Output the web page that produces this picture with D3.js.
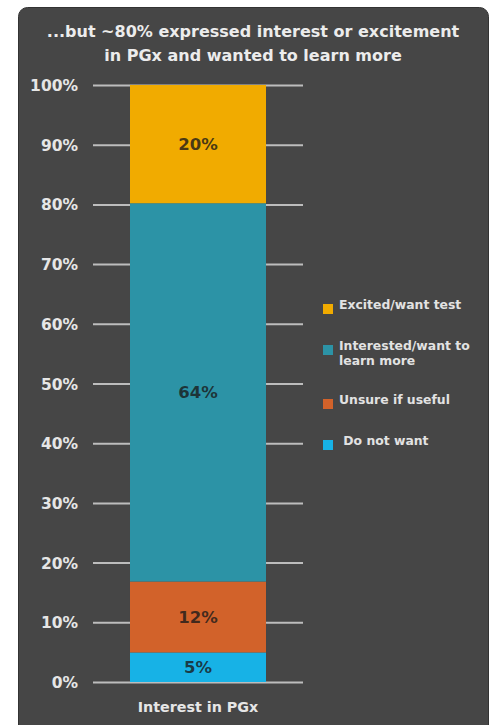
<!DOCTYPE html>
<html>
<head>
<meta charset="utf-8">
<script src="https://cdn.jsdelivr.net/npm/d3@7"></script>
<style>
  body { margin: 0; background: #fff; }
  svg { display: block; }
  text { font-family: "DejaVu Sans", sans-serif; font-weight: bold; }
</style>
</head>
<body>
<div id="chart"></div>
<script>
// Width and height
var w = 495;
var h = 725;

// data
var categories = ["Interest in PGx"];
var seriesNames = ["Do not want", "Unsure if useful", "Interested/want to learn more", "Excited/want test"];
var seriesValues = [5, 12, 64, 20];
var seriesColors = ["#17b2e6", "#d2622a", "#2c93a6", "#f1ab00"];
var tickValues = [0, 10, 20, 30, 40, 50, 60, 70, 80, 90, 100];
var titleLines = ["...but ~80% expressed interest or excitement", "in PGx and wanted to learn more"];

// legend is listed top to bottom
var legendNames = ["Excited/want test", "Interested/want to|learn more", "Unsure if useful", " Do not want"];
var legendColors = ["#f1ab00", "#2c93a6", "#d2622a", "#17b2e6"];

var svg = d3.select("#chart")
            .append("svg")
            .attr("width", w)
            .attr("height", h);

// dark panel
svg.append("rect")
   .attr("x", 18.5)
   .attr("y", 7.5)
   .attr("width", 470)
   .attr("height", 730)
   .attr("rx", 9)
   .attr("fill", "#464646")
   .attr("stroke", "#333")
   .attr("stroke-width", 1);

// title
svg.append("text")
   .attr("x", 253)
   .attr("y", 37)
   .attr("text-anchor", "middle")
   .attr("fill", "#ececec")
   .style("font-size", "16px")
   .selectAll("tspan")
   .data(titleLines).enter()
   .append("tspan")
   .attr("x", 253)
   .attr("dy", function (d, i) { return i === 0 ? 0 : 24; })
   .text(function (d) { return d; });

// scales
var y = d3.scaleLinear().domain([0, 100]).range([682, 85]);
var x = d3.scaleBand().domain(categories).range([93, 303]).paddingInner(0).paddingOuter(0.272);

// gridlines via axis
var grid = svg.append("g")
   .attr("class", "grid")
   .attr("transform", "translate(93,0)")
   .call(d3.axisRight(y).tickValues(tickValues).tickSize(210).tickFormat(""));
grid.select(".domain").remove();
grid.selectAll("line").attr("stroke", "#bdbdbd").attr("stroke-width", 2);

// y tick labels
var yAxis = svg.append("g")
   .attr("transform", "translate(78,0)")
   .call(d3.axisLeft(y).tickValues(tickValues).tickSize(0).tickPadding(0)
         .tickFormat(function (d) { return d + "%"; }));
yAxis.select(".domain").remove();
yAxis.selectAll("text")
   .attr("fill", "#e6e6e6")
   .attr("dy", "0.36em")
   .style("font-size", "15.5px")
   .style("font-weight", "bold")
   .style("font-family", "'DejaVu Sans', sans-serif");

// stacked bar, normalised to 100%
var total = d3.sum(seriesValues);
var stackData = [{}];
seriesNames.forEach(function (n, i) { stackData[0][n] = seriesValues[i] / total * 100; });
var stacked = d3.stack().keys(seriesNames)(stackData);

var bars = svg.selectAll("g.layer")
   .data(stacked)
   .enter()
   .append("g")
   .attr("class", "layer");

bars.append("rect")
   .attr("x", x(categories[0]))
   .attr("width", x.bandwidth())
   .attr("y", function (d) { return y(d[0][1]); })
   .attr("height", function (d) { return y(d[0][0]) - y(d[0][1]); })
   .attr("fill", function (d, i) { return seriesColors[i]; });

bars.append("text")
   .attr("x", x(categories[0]) + x.bandwidth() / 2)
   .attr("y", function (d) { return (y(d[0][0]) + y(d[0][1])) / 2; })
   .attr("dy", "0.36em")
   .attr("text-anchor", "middle")
   .attr("fill", "#1a1a1a")
   .attr("fill-opacity", 0.8)
   .style("font-size", "16.5px")
   .text(function (d, i) { return seriesValues[i] + "%"; });

// x axis label
var xAxis = svg.append("g")
   .attr("transform", "translate(0,682)")
   .call(d3.axisBottom(x).tickSize(0).tickPadding(20));
xAxis.select(".domain").remove();
xAxis.selectAll("text")
   .attr("fill", "#e6e6e6")
   .style("font-size", "14.3px")
   .style("font-weight", "bold")
   .style("font-family", "'DejaVu Sans', sans-serif");

// legend
var legendY = [309, 350, 404, 445];
var legend = svg.selectAll("g.legend")
   .data(legendNames)
   .enter()
   .append("g")
   .attr("class", "legend")
   .attr("transform", function (d, i) { return "translate(323," + legendY[i] + ")"; });

legend.append("rect")
   .attr("x", 0)
   .attr("y", -5)
   .attr("width", 10)
   .attr("height", 10)
   .attr("fill", function (d, i) { return legendColors[i]; });

legend.append("text")
   .attr("x", 16)
   .attr("y", 0)
   .attr("dy", "0.35em")
   .attr("fill", "#e2e2e2")
   .style("font-size", "12.4px")
   .style("white-space", "pre")
   .selectAll("tspan")
   .data(function (d) { return d.split("|"); })
   .enter()
   .append("tspan")
   .attr("x", 16)
   .attr("dy", function (d, i) { return i === 0 ? 0 : "1.2em"; })
   .text(function (d) { return d; });
</script>
</body>
</html>
